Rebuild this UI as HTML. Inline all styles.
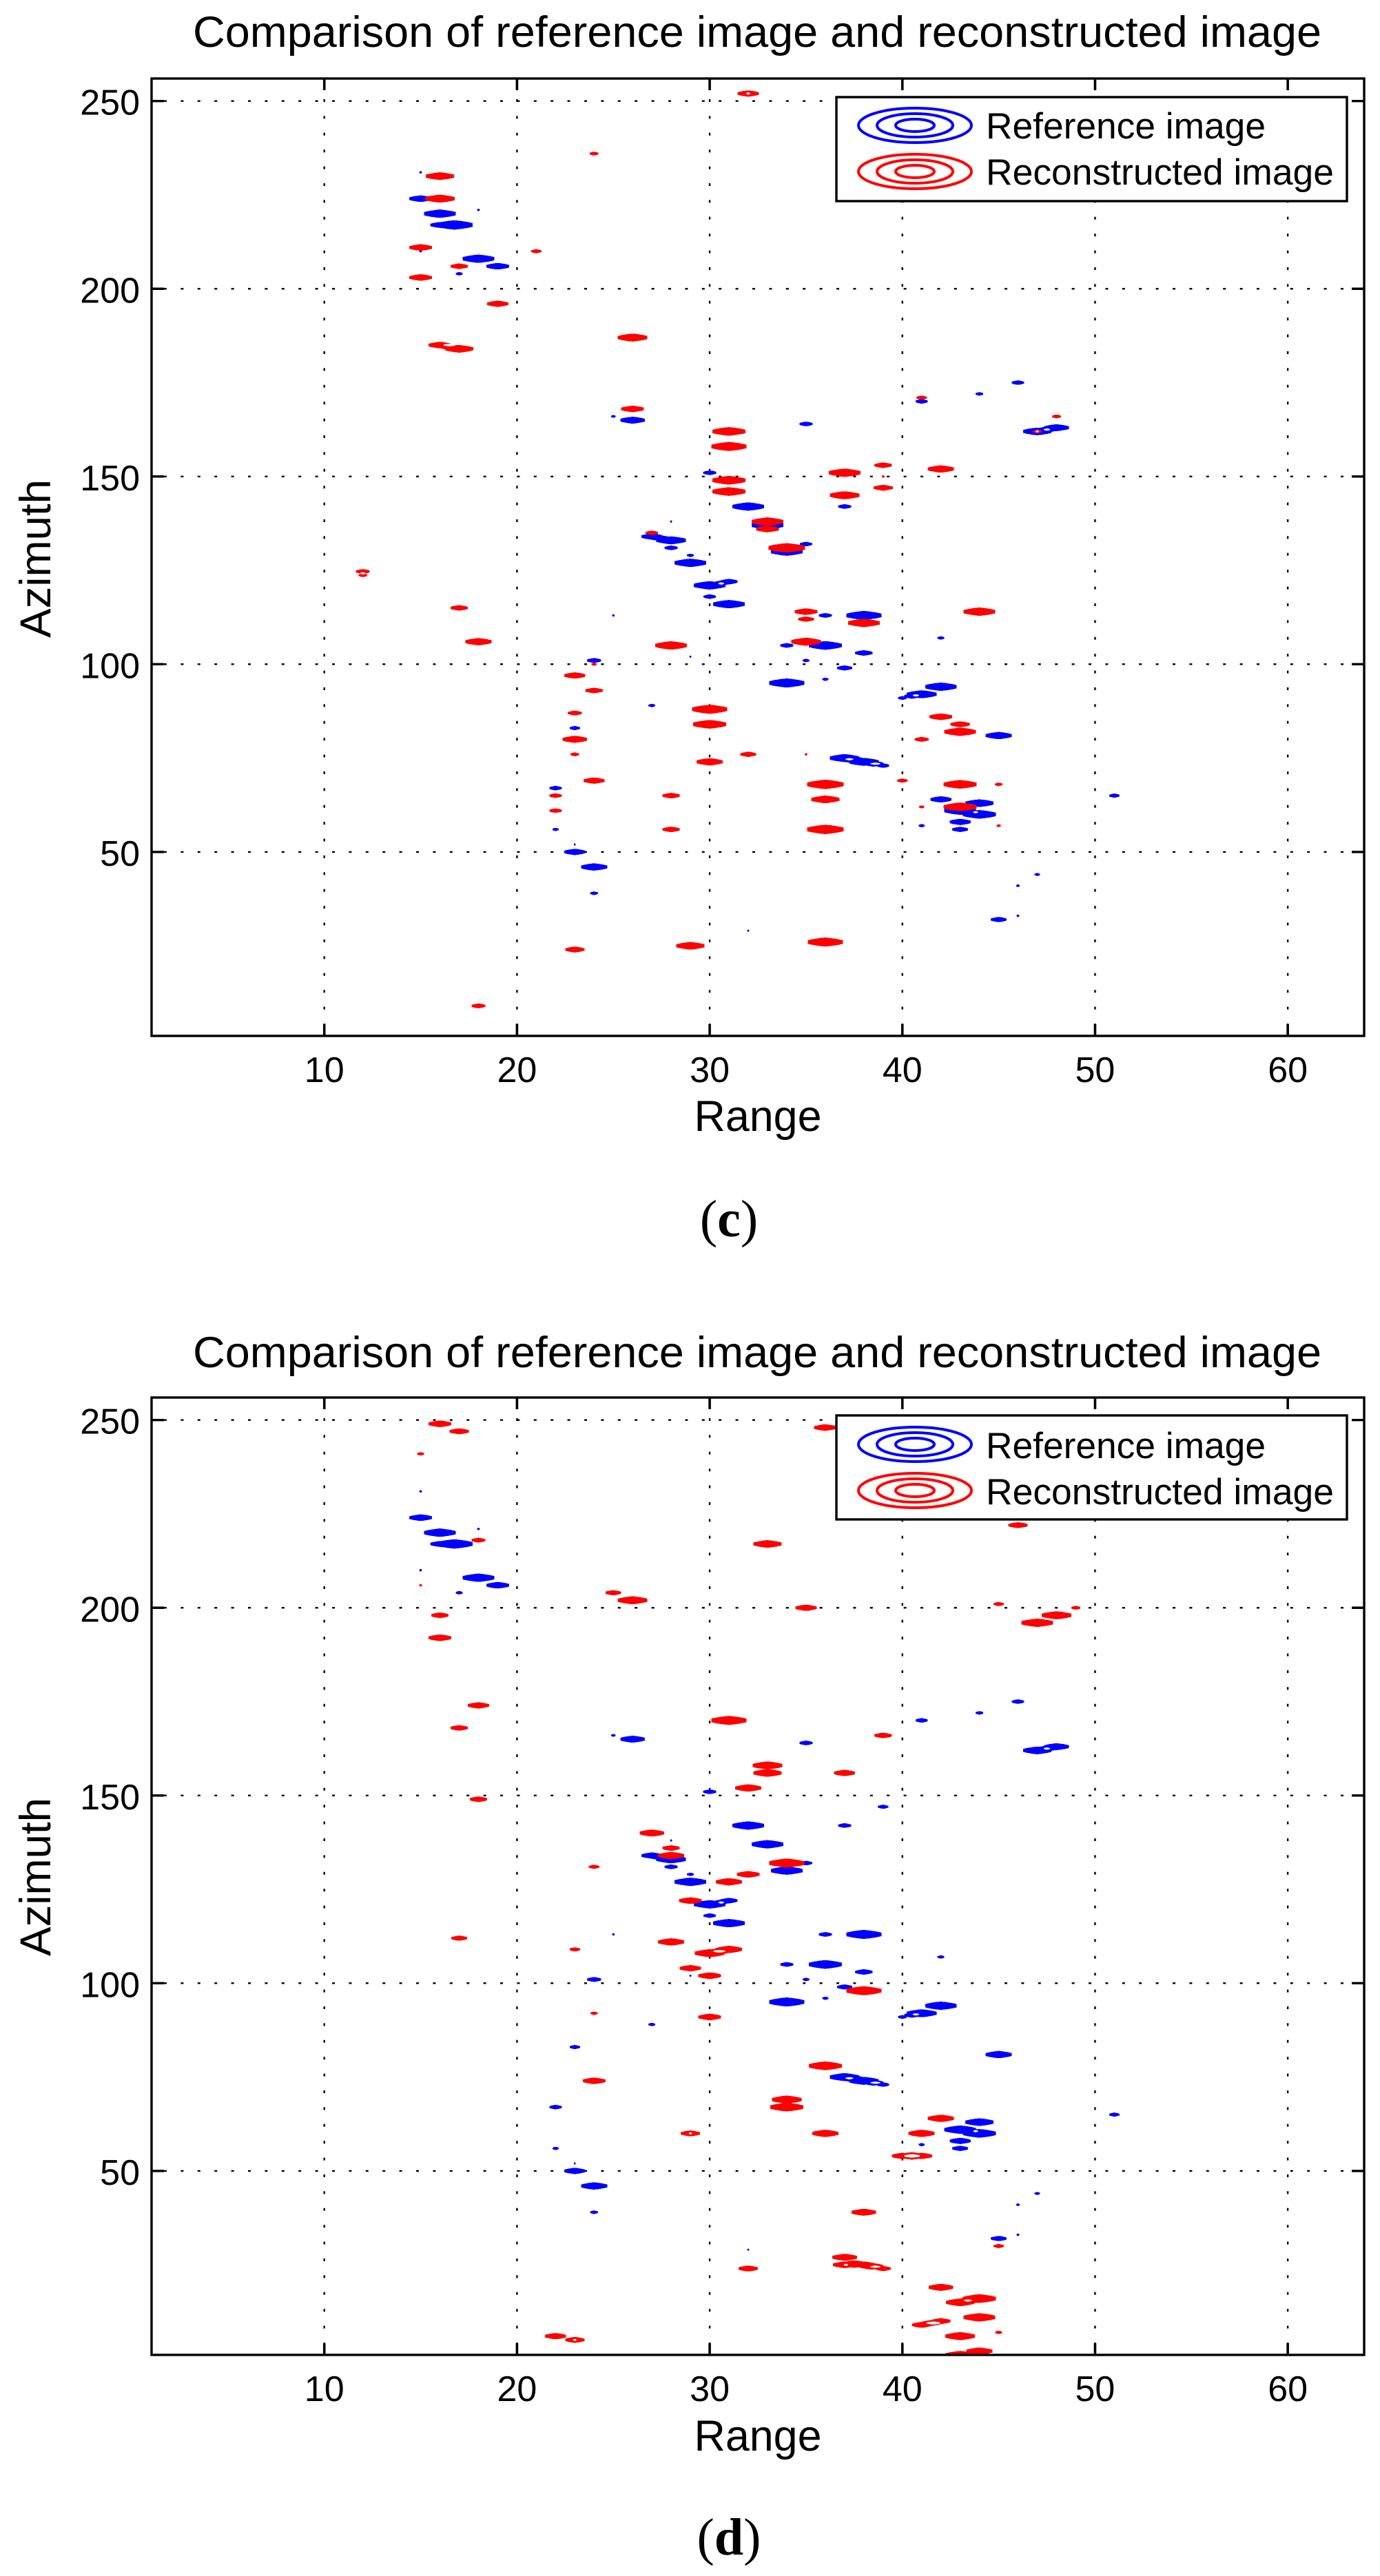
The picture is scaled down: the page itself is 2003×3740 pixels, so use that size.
<!DOCTYPE html>
<html lang="en">
<head>
<meta charset="utf-8">
<title>Comparison of reference image and reconstructed image</title>
<style>
html,body{margin:0;padding:0;background:#fff;}
svg{display:block;}
text{font-family:"Liberation Sans",Arial,sans-serif;fill:#000;}
.caption{font-family:"Liberation Serif","Times New Roman",serif;font-size:76px;}
</style>
</head>
<body>
<svg id="figure" xmlns="http://www.w3.org/2000/svg" width="2003" height="3740" viewBox="0 0 2003 3740">
<rect x="0" y="0" width="2003" height="3740" fill="#fff"/>

<g id="panel-c"></g>
<g id="panel-d"></g>

<!-- panel c text + legend -->
<text x="1099" y="68" font-size="63" text-anchor="middle" textLength="1638" lengthAdjust="spacingAndGlyphs">Comparison of reference image and reconstructed image</text>
<text x="1100" y="1642" font-size="63" text-anchor="middle" textLength="185" lengthAdjust="spacingAndGlyphs">Range</text>
<text transform="translate(73,811) rotate(-90)" font-size="63" text-anchor="middle" textLength="230" lengthAdjust="spacingAndGlyphs">Azimuth</text>
<g>
  <rect x="1214" y="141" width="741" height="151" fill="#fff" stroke="#000" stroke-width="3.4"/>
  <g fill="none" stroke="#00f" stroke-width="4">
    <ellipse cx="1328" cy="182" rx="82" ry="25"/><ellipse cx="1328" cy="182" rx="55" ry="17"/><ellipse cx="1328" cy="182" rx="28" ry="9"/>
  </g>
  <text x="1431" y="201" font-size="52.5" textLength="406" lengthAdjust="spacingAndGlyphs">Reference image</text>
  <g fill="none" stroke="#f00" stroke-width="4">
    <ellipse cx="1328" cy="249" rx="82" ry="25"/><ellipse cx="1328" cy="249" rx="55" ry="17"/><ellipse cx="1328" cy="249" rx="28" ry="9"/>
  </g>
  <text x="1431" y="268" font-size="52.5" textLength="505" lengthAdjust="spacingAndGlyphs">Reconstructed image</text>
</g>
<text class="caption" x="1058" y="1795" text-anchor="middle">(<tspan font-weight="bold">c</tspan>)</text>

<!-- panel d text + legend -->
<text x="1099" y="1985" font-size="63" text-anchor="middle" textLength="1638" lengthAdjust="spacingAndGlyphs">Comparison of reference image and reconstructed image</text>
<text x="1100" y="3558" font-size="63" text-anchor="middle" textLength="185" lengthAdjust="spacingAndGlyphs">Range</text>
<text transform="translate(73,2725) rotate(-90)" font-size="63" text-anchor="middle" textLength="230" lengthAdjust="spacingAndGlyphs">Azimuth</text>
<g>
  <rect x="1214" y="2055" width="741" height="151" fill="#fff" stroke="#000" stroke-width="3.4"/>
  <g fill="none" stroke="#00f" stroke-width="4">
    <ellipse cx="1328" cy="2097" rx="82" ry="25"/><ellipse cx="1328" cy="2097" rx="55" ry="17"/><ellipse cx="1328" cy="2097" rx="28" ry="9"/>
  </g>
  <text x="1431" y="2117" font-size="52.5" textLength="406" lengthAdjust="spacingAndGlyphs">Reference image</text>
  <g fill="none" stroke="#f00" stroke-width="4">
    <ellipse cx="1328" cy="2164" rx="82" ry="25"/><ellipse cx="1328" cy="2164" rx="55" ry="17"/><ellipse cx="1328" cy="2164" rx="28" ry="9"/>
  </g>
  <text x="1431" y="2184" font-size="52.5" textLength="505" lengthAdjust="spacingAndGlyphs">Reconstructed image</text>
</g>
<text class="caption" x="1058" y="3709" text-anchor="middle">(<tspan font-weight="bold">d</tspan>)</text>
</svg>

<script>
// Axis tick values
const rangeTicks = [10, 20, 30, 40, 50, 60];
const azimuthTicks = [50, 100, 150, 200, 250];

// Reference image peaks (shared by both panels): range bin, azimuth bin, peak extent in range units
const refRange = [15,15,16,16,16.75,18,18,19,17,15,25,26,35,41,44,46,47,48,30,32,37,33,35,27,28,28,28,34,39,29,29,30,31,30,31,25,36,38,42,34,36,38,29,24,35,37,36,34,42,41,40,27,23,45,37,38,39,22,51,42,44,43,44,43,43,41,22,23,23,24,47,46,24,46,45,32,47.5,40.5,30.6,43.5,27.5,37.5,38.5];
const refAzimuth = [231,224,220,217,217,221,208,206,204,210,166,165,164,170,172,175,162,163,151,142,142,137,132,134,133,131,138,130,147,129,127,121,122,118,116,113,113,113,107,105,105,103,102,101,101,99,96,95,94,92,91,89,83,81,75,74,73,67,65,64,63,61,60,58,56,57,56,52,50,46,44,41,39,33,32,29,162.5,91.5,121.6,60.5,133.5,74.5,73.5];
const refPeak = [.07,.59,.82,.5,.95,.07,.82,.59,.18,.07,.11,.64,.34,.32,.2,.32,.73,.64,.34,.82,.34,.82,.32,.55,.77,.34,.05,.82,.27,.18,.82,.82,.45,.32,.82,.07,.34,.91,.18,.34,.86,.45,.05,.36,.18,.39,.16,.91,.82,.77,.23,.18,.27,.68,.77,.77,.32,.32,.27,.55,.73,.82,.86,.55,.41,.16,.16,.05,.55,.68,.14,.09,.2,.07,.41,.05,.5,.4,.4,.6,.5,.6,.5];
// Gaps inside reference contours
const refHoleRange = [47.5,30.6,40.7,37.25,38.6,43.8];
const refHoleAzimuth = [162.5,121.5,91.7,74.7,73.5,60.6];
const refHolePeak = [.16,.14,.16,.2,.25,.12];

// Panel (c) reconstructed peaks
const cRange = [32,24,16,16,15,21,17,15,19,26,16,17,41,26,48,31,47,31,39,42,31,37,39,31,39,37,33,33,27,34,12,17,35,35,38,44,18,35,28,24,23,24,30,23,42,30,43,43,23,41,23,32,35,30,24,40,36,43,45,22,28,36,22,43,41,45,28,36,23,29,36,18,16.5,12];
const cAzimuth = [252,236,230,224,211,210,206,203,196,187,185,184,171,168,166,162,162,158,153,152,149,151,150,146,147,145,138,136,135,131,124.7,115,114,112,111,114,106,106,105,100,97,93,88,87,86,84,84,82,80,80,76,76,76,74,69,69,68,68,68,65,65,64,61,62,62,57,56,56,24,25,26,9,184.5,123.7];
const cPeak = [.55,.23,.73,.77,.59,.27,.45,.59,.55,.77,.59,.73,.27,.59,.23,.86,.23,.91,.45,.68,.86,.82,.07,.86,.5,.77,.82,.59,.32,.95,.36,.45,.59,.41,.82,.82,.68,.77,.82,.14,.55,.45,.91,.36,.59,.86,.5,.82,.64,.36,.23,.41,.07,.68,.55,.27,.95,.86,.2,.32,.45,.73,.32,.86,.14,.11,.45,.95,.5,.73,.91,.36,.5,.22];
const cHoleRange = [12,16.5,47,32];
const cHoleAzimuth = [124.2,185,162,252];
const cHolePeak = [.12,.3,.08,.1];

// Panel (d) reconstructed peaks
const dRange = [16,17,36,15,46,33,18,15,25,26,45,35,49,16,48,47,16,18,31,17,39,33,33,37,32,18,27,28,28,34,32,24,31,29,17,23,28,30,31,29,30,38,24,30,36,24,34,34,42,29,36,41,40,41,38,45,37,32,37,38,39,42,43,44,44,41,42,45,22,23,43,44,43,30.5,40.5,37.5,38.4,43.5,41.5];
const dAzimuth = [249,247,248,241,222,217,218,206,204,202,201,200,200,198,198,196,192,174,170,168,166,158,156,156,152,149,140,136,134,132,129,131,127,122,112,109,111,108,109,104,102,98,92,91,78,74,69,67,64,60,60,60,54,54,39,30,27,24,25,25,24,19,15,16,11,9,10,7,6,5,6,2,1,108.5,54,25.2,24.6,15.5,9.5];
const dPeak = [.59,.5,.59,.18,.5,.73,.36,.07,.41,.77,.27,.55,.23,.45,.77,.82,.59,.55,.91,.45,.45,.77,.73,.55,.68,.45,.64,.45,.68,.91,.59,.27,.68,.59,.41,.27,.68,.77,.68,.55,.59,.91,.18,.59,.86,.59,.77,.86,.68,.5,.68,.68,.55,.55,.64,.27,.64,.5,.6,.6,.4,.64,.73,.86,.82,.5,.5,.18,.55,.5,.77,.68,.77,.55,.7,.7,.6,.6,.5];
const dHoleRange = [30.5,40.5,37.07,38.6,43.4,41.6,23,29];
const dHoleAzimuth = [108.5,54,25,24.5,15.5,9.5,5,60];
const dHolePeak = [.3,.4,.1,.25,.2,.35,.08,.08];

const NS = 'http://www.w3.org/2000/svg';
const LEFT = 220, RIGHT = 1980;

function xAxis(range) { return 219 + (range - 1) * (1762 / 63); }
function yAxis(azimuth, bottom) { return bottom - (azimuth - 1) * (1390 / 255); }

function make(tag, parent, attrs) {
  const el = document.createElementNS(NS, tag);
  Object.keys(attrs).forEach(function (k) { el.setAttribute(k, attrs[k]); });
  parent.appendChild(el);
  return el;
}

function lensPoints(cx, cy, hw, hh) {
  const f = [[-1,.4],[-.7,.65],[-.3,.88],[0,1],[.3,.88],[.7,.65],[1,.4]];
  const pts = [];
  f.forEach(function (p) { pts.push((cx + p[0]*hw).toFixed(1) + ',' + (cy - p[1]*hh).toFixed(1)); });
  f.slice().reverse().forEach(function (p) { pts.push((cx + p[0]*hw).toFixed(1) + ',' + (cy + p[1]*hh).toFixed(1)); });
  return pts.join(' ');
}

function drawPeaks(parent, bottom, ranges, azimuths, peaks, colour, name) {
  const g = make('g', parent, { fill: colour, 'shape-rendering': 'crispEdges' });
  
  
  ranges.forEach(function (r, i) {
    const hw = Math.max(peaks[i] * (1762 / 63), 1);
    const hh = (3 + 0.2 * hw * 2) / 2;
    const p = make('polygon', g, { points: lensPoints(xAxis(r), yAxis(azimuths[i], bottom), hw, hh) });
    
    
  });
}

function drawHoles(parent, bottom, ranges, azimuths, peaks) {
  ranges.forEach(function (r, i) {
    const hw = peaks[i] * (1762 / 63);
    const hh = Math.max(hw * 0.22, 1.6);
    const p = make('polygon', parent, { points: lensPoints(xAxis(r), yAxis(azimuths[i], bottom), hw, hh), fill: '#fff' });
    
    
  });
}

function drawPanel(id, top, bottom, reconRange, reconAzimuth, reconPeak, holeR, holeA, holeP) {
  const root = document.getElementById(id);
  const clipId = id + '-clip';
  const defs = make('defs', root, {});
  const clip = make('clipPath', defs, { id: clipId });
  make('rect', clip, { x: LEFT, y: top, width: RIGHT - LEFT, height: bottom - top });

  const grid = make('g', root, { stroke: '#000', 'stroke-width': 2.4, 'stroke-dasharray': '4 20.4', fill: 'none' });
  
  
  rangeTicks.forEach(function (t) {
    const x = xAxis(t);
    const l = make('line', grid, { x1: x, x2: x, y1: bottom - 14, y2: top + 14 });
    
    
  });
  azimuthTicks.forEach(function (t) {
    const y = yAxis(t, bottom);
    const l = make('line', grid, { x1: LEFT + 18, x2: RIGHT - 18, y1: y, y2: y });
    
    
  });

  const marks = make('g', root, { 'clip-path': 'url(#' + clipId + ')' });
  
  
  drawPeaks(marks, bottom, refRange, refAzimuth, refPeak, '#00f', 'reference-image');
  drawHoles(marks, bottom, refHoleRange, refHoleAzimuth, refHolePeak);
  drawPeaks(marks, bottom, reconRange, reconAzimuth, reconPeak, '#f00', 'reconstructed-image');
  drawHoles(marks, bottom, holeR, holeA, holeP);

  const frame = make('rect', root, { x: LEFT, y: top, width: RIGHT - LEFT, height: bottom - top, fill: 'none', stroke: '#000', 'stroke-width': 3.4 });
  
  

  rangeTicks.forEach(function (t) {
    const x = xAxis(t);
    const a = make('line', root, { x1: x, x2: x, y1: bottom, y2: bottom - 17, stroke: '#000', 'stroke-width': 3.6 });
    
    
    const b = make('line', root, { x1: x, x2: x, y1: top, y2: top + 17, stroke: '#000', 'stroke-width': 3.6 });
    
    
    const lab = make('text', root, { x: x, y: bottom + 67, 'font-size': 52, 'text-anchor': 'middle' });
    lab.textContent = String(t);
    
    
  });
  azimuthTicks.forEach(function (t) {
    const y = yAxis(t, bottom);
    const a = make('line', root, { x1: LEFT, x2: LEFT + 18, y1: y, y2: y, stroke: '#000', 'stroke-width': 3.4 });
    
    
    const b = make('line', root, { x1: RIGHT, x2: RIGHT - 18, y1: y, y2: y, stroke: '#000', 'stroke-width': 3.4 });
    
    
    const lab = make('text', root, { x: 203, y: y + 20, 'font-size': 52, 'text-anchor': 'end' });
    lab.textContent = String(t);
    
    
  });
}

drawPanel('panel-c', 114, 1504, cRange, cAzimuth, cPeak, cHoleRange, cHoleAzimuth, cHolePeak);
drawPanel('panel-d', 2029, 3419, dRange, dAzimuth, dPeak, dHoleRange, dHoleAzimuth, dHolePeak);
</script>
</body>
</html>
